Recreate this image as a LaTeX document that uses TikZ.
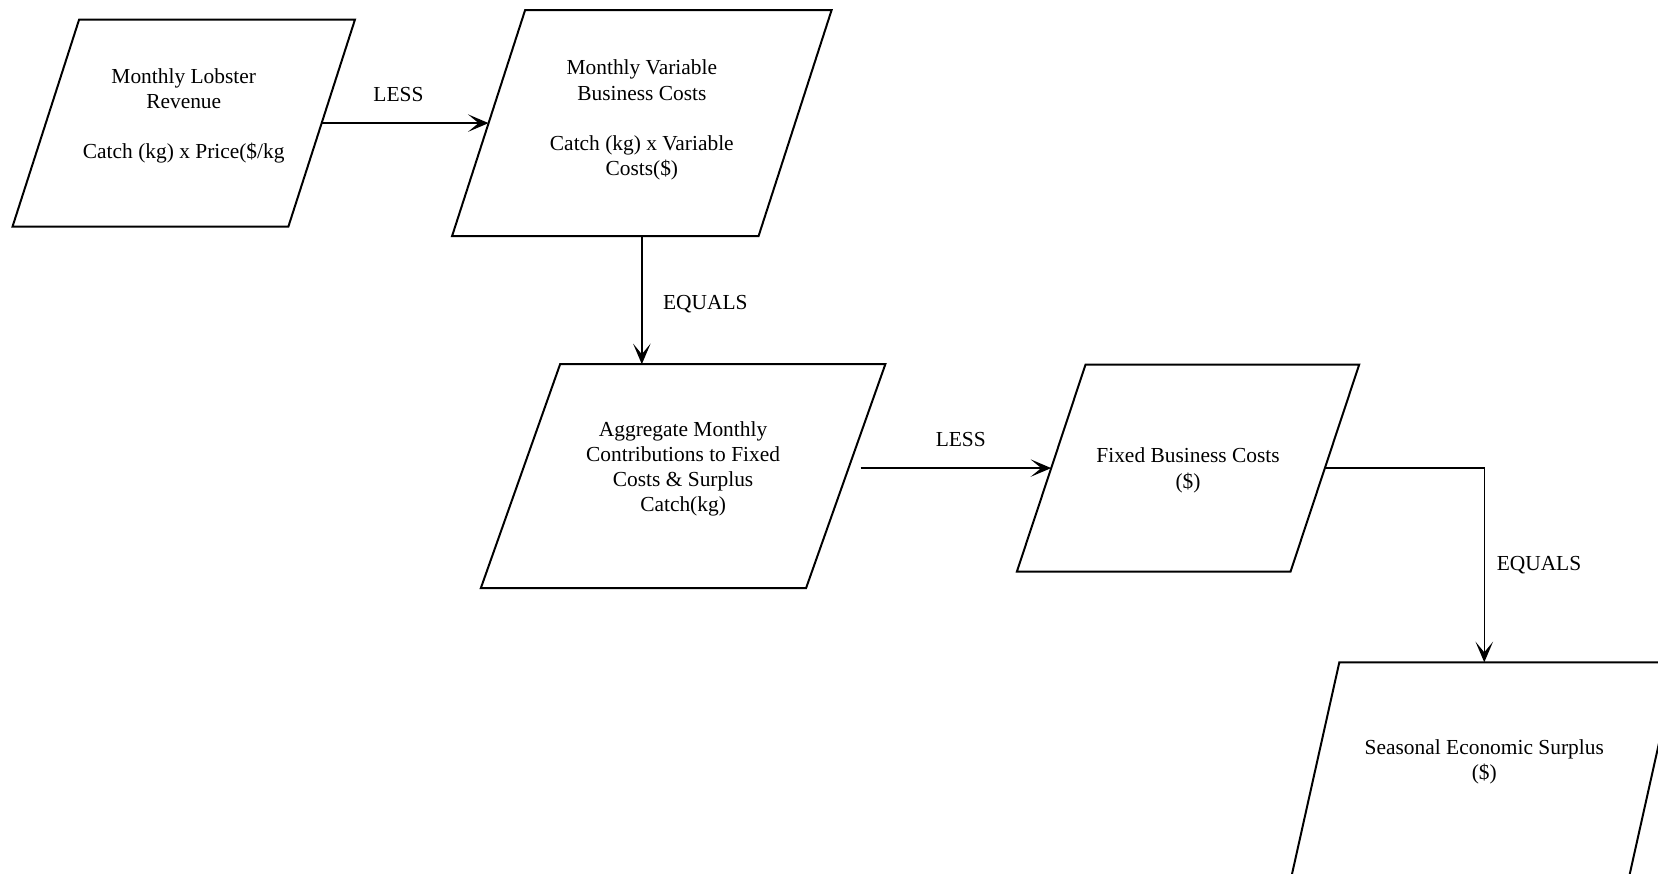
\documentclass[tikz,border=0pt]{standalone}
\usepackage{fontspec}
\setmainfont{Liberation Serif}
\usetikzlibrary{arrows.meta}
\definecolor{LobInk}{RGB}{0,0,0}
\tikzset{
  lob/para/.style={
    rectangle,
    inner sep=0pt,
    align=center,
    text=LobInk,
    font=\fontsize{9.75}{11.4}\selectfont,
    append after command={
      \pgfextra{
        \draw[draw=LobInk, line width=0.9pt, line join=miter]
          ([xshift=#1/2]\tikzlastnode.north west) -- ([xshift=#1/2]\tikzlastnode.north east)
          -- ([xshift=-#1/2]\tikzlastnode.south east) -- ([xshift=-#1/2]\tikzlastnode.south west) -- cycle;
      }
    }
  },
  lob/arrow/.style={-{Stealth[length=3.3mm,width=2.8mm,inset=1.7mm]}, line width=0.7pt, draw=LobInk},
  lob/label/.style={font=\fontsize{9.75}{11.4}\selectfont, text=LobInk}
}

\begin{document}
\begin{tikzpicture}[x=1cm,y=1cm]
  \useasboundingbox (0,0) rectangle (26.53,13.97);
  \clip (0,0) rectangle (26.53,13.97);
  \node[lob/para=1.066cm,minimum width=4.40cm,minimum height=3.30cm,text depth=9pt] (rev) at (2.94,12.00) {Monthly Lobster\\Revenue\\[11.4pt]Catch (kg) x Price(\$/kg};
  \node[lob/para=1.168cm,minimum width=4.89cm,minimum height=3.60cm,text depth=5pt] (var) at (10.27,12.00) {Monthly Variable\\Business Costs\\[11.4pt]Catch (kg) x Variable\\Costs(\$)};
  \node[lob/para=1.269cm,minimum width=5.19cm,minimum height=3.57cm,text depth=9pt] (agg) at (10.93,6.35) {Aggregate Monthly\\Contributions to Fixed\\Costs \& Surplus\\Catch(kg)};
  \node[lob/para=1.099cm,minimum width=4.365cm,minimum height=3.30cm,text depth=0pt] (fix) at (19.01,6.48) {Fixed Business Costs\\(\$)};
  \node[lob/para=0.765cm,minimum width=5.39cm,minimum height=3.41cm,text depth=9pt] (sur) at (23.75,1.66) {Seasonal Economic Surplus\\(\$)};
  \draw[lob/arrow] (rev.east) -- node[pos=0.46,above=6pt,lob/label] {LESS} (var.west);
  \draw[lob/arrow] (var.south) -- node[pos=0.53,right=6pt,lob/label] {EQUALS} (var.south |- agg.north);
  \draw[lob/arrow,shorten <=0.24cm] (agg.east |- fix.west) -- node[pos=0.56,above=6pt,lob/label] {LESS} (fix.west);
  \draw[lob/arrow] (fix.east) -| node[pos=0.75,right=2pt,lob/label] {EQUALS} (sur);
\end{tikzpicture}
\end{document}
